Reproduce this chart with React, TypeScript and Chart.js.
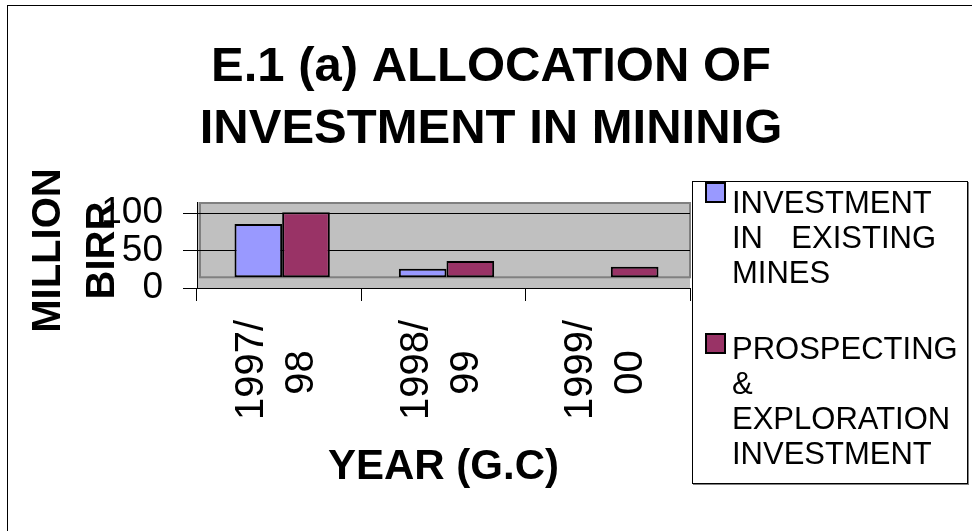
import React, { useEffect, useRef } from "react";
import { Chart, registerables } from "chart.js";

Chart.register(...registerables);

// ---- data ----
const categories = ["1997/98", "1998/99", "1999/00"];
const seriesNames = [
  "INVESTMENT IN EXISTING MINES",
  "PROSPECTING & EXPLORATION INVESTMENT",
];
const existingMines: (number | null)[] = [82, 13, null];
const exploration: (number | null)[] = [100, 25, 16];
const yTickValues = [0, 50, 100];
const titleLines = ["E.1 (a) ALLOCATION OF", "INVESTMENT IN MININIG"];
const yTitleLines = ["MILLION", "BIRR"];
const xTitle = "YEAR (G.C)";
const seriesColors = ["#9999FF", "#993366"];

// ---- styling / geometry ----
const FONT = "'Liberation Sans', Arial, Helvetica, sans-serif";
const W = 972;
const H = 531;
const DEPTH_X = 3; // pseudo 3D shift of the back wall / bars
const Y_MAX = 114.7; // front axis range (0 at floor front edge)
const YB_MIN = -16.5; // bar axis range (0 at back-wall floor)
const YB_MAX = 115.8;

const wallPlugin = {
  id: "wall",
  beforeDraw(chart: any) {
    const { ctx, chartArea: a, scales } = chart;
    const floorY = scales.yb.getPixelForValue(0);
    ctx.save();
    ctx.fillStyle = "#C0C0C0";
    ctx.fillRect(a.left, a.top, a.right - a.left, a.bottom - a.top);
    ctx.strokeStyle = "#808080";
    ctx.lineWidth = 2;
    ctx.strokeRect(a.left + DEPTH_X, a.top + 1, a.right - a.left - DEPTH_X, floorY - a.top - 1);
    ctx.restore();
  },
  beforeDatasetsDraw(chart: any) {
    chart.ctx.save();
    chart.ctx.translate(DEPTH_X, 0);
  },
  afterDatasetsDraw(chart: any) {
    chart.ctx.restore();
  },
};

function splitLabel(label: string): string[] {
  const idx = label.indexOf("/");
  return [label.slice(0, idx + 1), label.slice(idx + 1) + "  \u2009"];
}

export default function App() {
  const canvasRef = useRef<HTMLCanvasElement | null>(null);

  useEffect(() => {
    if (!canvasRef.current) return;
    const chart = new Chart(canvasRef.current, {
      type: "bar",
      data: {
        labels: categories,
        datasets: [
          {
            label: seriesNames[0],
            data: existingMines,
            backgroundColor: seriesColors[0],
            borderColor: "#000",
            borderWidth: 2,
            borderSkipped: false,
            yAxisID: "yb",
          },
          {
            label: seriesNames[1],
            data: exploration,
            backgroundColor: seriesColors[1],
            borderColor: "#000",
            borderWidth: 2,
            borderSkipped: false,
            yAxisID: "yb",
          },
        ],
      },
      options: {
        responsive: false,
        animation: false,
        devicePixelRatio: 1,
        layout: { padding: { left: 10, right: 0, top: 0, bottom: 0 } },
        datasets: { bar: { categoryPercentage: 0.58, barPercentage: 1 } },
        plugins: {
          legend: { display: false },
          tooltip: { enabled: false },
          title: {
            display: true,
            text: titleLines,
            color: "#000",
            font: { family: FONT, size: 49, weight: "bold", lineHeight: "62px" },
            padding: { top: 36.5, bottom: 41.5 },
          },
        },
        scales: {
          x: {
            type: "category",
            offset: true,
            grid: {
              display: true,
              drawOnChartArea: false,
              drawTicks: true,
              tickLength: 13,
              color: "#000",
              offset: true,
            },
            border: { display: true, color: "#000", width: 1 },
            ticks: {
              autoSkip: false,
              minRotation: 90,
              maxRotation: 90,
              labelOffset: -27,
              padding: 19,
              color: "#000",
              font: { family: FONT, size: 40, lineHeight: "50px" },
              callback: (_v: any, i: number) => splitLabel(categories[i]),
            },
            title: {
              display: true,
              text: xTitle,
              color: "#000",
              font: { family: FONT, size: 42, weight: "bold", lineHeight: 1.2 },
              padding: { top: 0, bottom: 38.8 },
            },
            afterFit: (s: any) => {
              s.height = 243;
            },
          },
          y: {
            position: "left",
            min: yTickValues[0],
            max: Y_MAX,
            grid: { color: "#000", lineWidth: 1, drawTicks: true, tickLength: 14 },
            border: { display: true, color: "#000", width: 1 },
            ticks: {
              stepSize: yTickValues[1] - yTickValues[0],
              includeBounds: false,
              autoSkip: false,
              padding: 20,
              color: "#000",
              font: { family: FONT, size: 37 },
            },
            title: {
              display: true,
              text: yTitleLines.map((t) => t + " "),
              color: "#000",
              font: { family: FONT, size: 40, weight: "bold", lineHeight: "54px" },
              padding: { top: 11.5, bottom: 0 },
            },
            afterFit: (s: any) => {
              s.width = 187;
            },
          },
          yb: {
            position: "right",
            min: YB_MIN,
            max: YB_MAX,
            display: true,
            grid: { display: false },
            border: { display: false },
            ticks: { display: false },
            afterFit: (s: any) => {
              s.width = 282;
            },
          },
        },
      },
      plugins: [wallPlugin],
    } as any);
    return () => chart.destroy();
  }, []);

  const legendTextTops = [3, 148.5];
  const legendSwatchTops = [0, 151];

  return (
    <div style={{ position: "absolute", left: 0, top: 0, width: W, height: H, overflow: "hidden", background: "#fff" }}>
      <div
        style={{
          position: "absolute",
          left: 7,
          top: 5,
          width: W,
          height: H,
          borderLeft: "1px solid #000",
          borderTop: "1px solid #000",
        }}
      />
      <canvas ref={canvasRef} width={W} height={H} style={{ position: "absolute", left: 0, top: 0, width: W, height: H }} />
      <div
        style={{
          position: "absolute",
          left: 692,
          top: 181,
          width: 276,
          height: 303,
          boxSizing: "border-box",
          border: "1px solid #000",
          boxShadow: "1px 1px 0 #808080",
          background: "#fff",
          fontFamily: FONT,
          fontSize: 31,
          lineHeight: "35px",
          color: "#000",
        }}
      >
        {seriesNames.map((name, i) => (
          <React.Fragment key={name}>
            <div
              style={{
                position: "absolute",
                left: 12,
                top: legendSwatchTops[i],
                width: 21,
                height: 21,
                boxSizing: "border-box",
                border: "2px solid #000",
                background: seriesColors[i],
              }}
            />
            <div style={{ position: "absolute", left: 39, top: legendTextTops[i], width: 204, textAlign: "justify" }}>
              {name}
            </div>
          </React.Fragment>
        ))}
      </div>
    </div>
  );
}
